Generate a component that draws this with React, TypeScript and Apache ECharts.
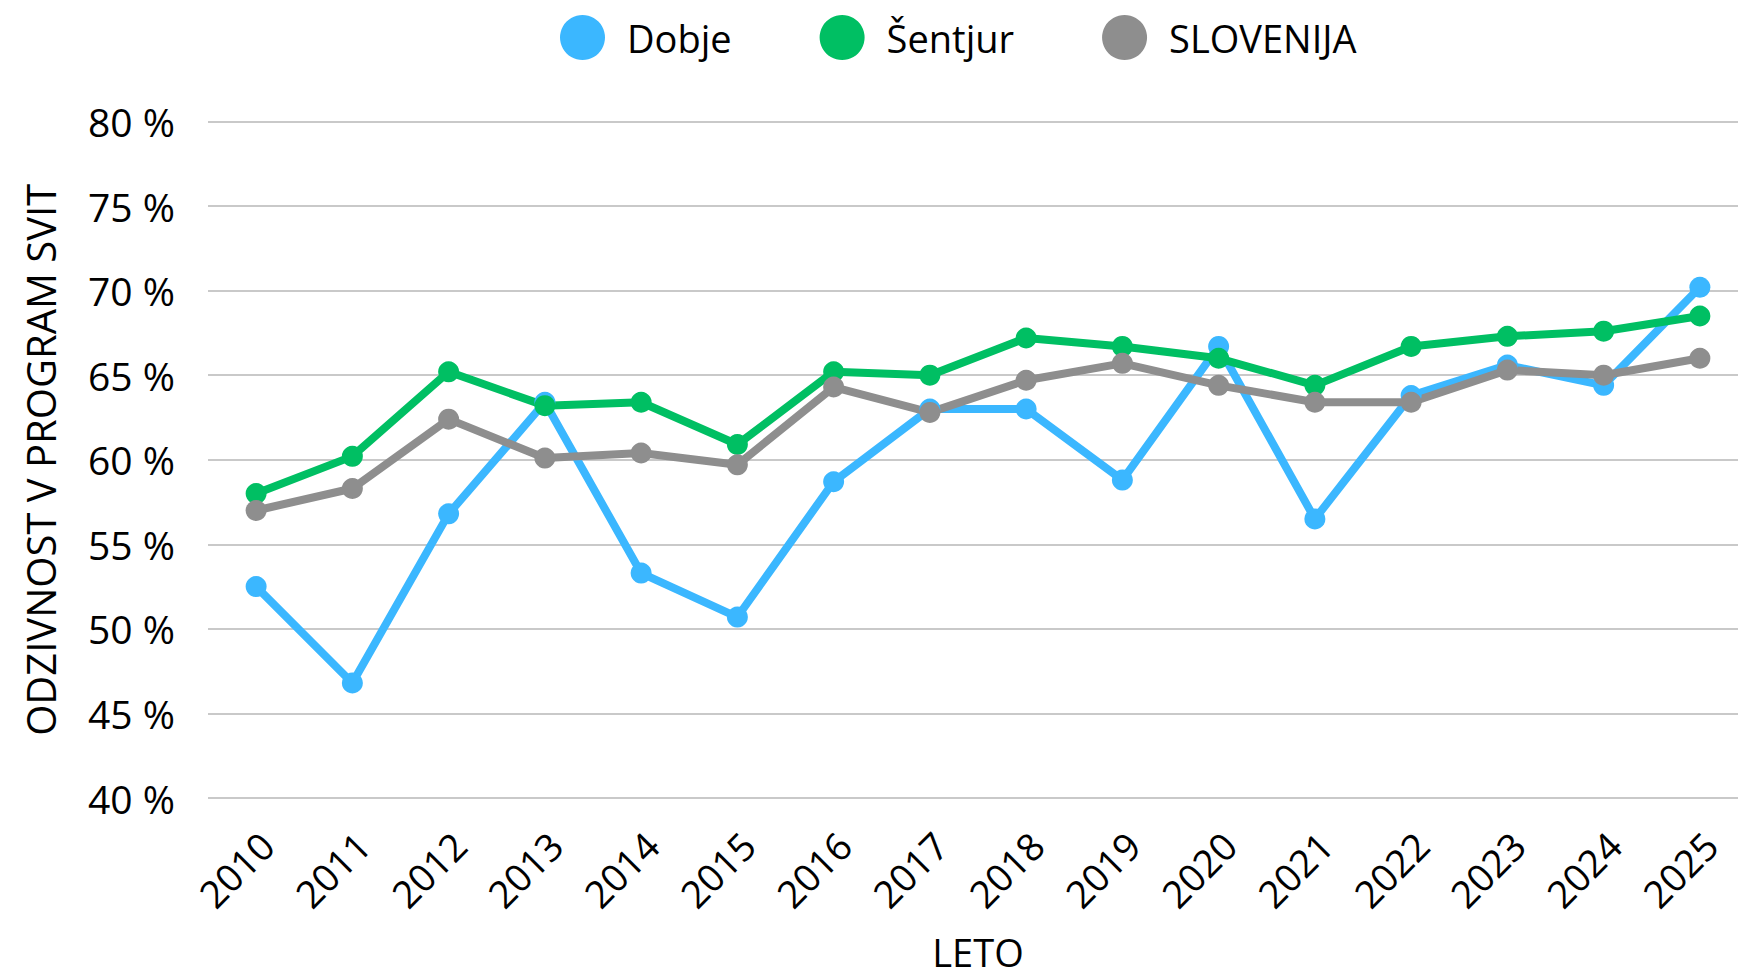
import React, { useEffect, useRef } from "react";
import * as echarts from "echarts";

const years = ["2010", "2011", "2012", "2013", "2014", "2015", "2016", "2017", "2018", "2019", "2020", "2021", "2022", "2023", "2024", "2025"];
const dobje = [52.5, 46.8, 56.8, 63.4, 53.3, 50.7, 58.7, 63.0, 63.0, 58.8, 66.7, 56.5, 63.8, 65.6, 64.4, 70.2];
const sentjur = [58.0, 60.2, 65.2, 63.2, 63.4, 60.9, 65.2, 65.0, 67.2, 66.7, 66.0, 64.4, 66.7, 67.3, 67.6, 68.5];
const slovenija = [57.0, 58.3, 62.4, 60.1, 60.4, 59.7, 64.3, 62.8, 64.7, 65.7, 64.4, 63.4, 63.4, 65.3, 65.0, 66.0];

const seriesNames = ["Dobje", "Šentjur", "SLOVENIJA"];
const colors = ["#3BB7FF", "#00BF63", "#8E8E8E"];

const FONT = "'Open Sans', sans-serif";

export default function App() {
  const ref = useRef<HTMLDivElement>(null);
  useEffect(() => {
    if (!ref.current) return;
    const chart = echarts.init(ref.current, undefined, { renderer: "svg" });
    const data = [dobje, sentjur, slovenija];
    chart.setOption({
      animation: false,
      backgroundColor: "#ffffff",
      textStyle: { fontFamily: FONT },
      legend: {
        left: 555,
        top: 10,
        icon: "circle",
        itemWidth: 45,
        itemHeight: 45,
        itemGap: 88,
        textStyle: { fontSize: 38, color: "#000", fontFamily: FONT, padding: [0, 0, 0, 17] },
        data: seriesNames,
      },
      grid: { left: 208, top: 121.5, width: 1540, height: 676.5, outerBoundsMode: "none", containLabel: false },
      xAxis: {
        type: "category",
        data: years,
        boundaryGap: true,
        axisLine: { show: false },
        axisTick: { show: false },
        axisLabel: {
          rotate: 45,
          fontSize: 38,
          lineHeight: 30,
          verticalAlign: "top",
          color: "#000",
          fontFamily: FONT,
          margin: 30,
          interval: 0,
        },
        name: "LETO",
        nameLocation: "middle",
        nameGap: 139,
        nameTextStyle: { fontSize: 38, lineHeight: 30, color: "#000", fontFamily: FONT },
      },
      yAxis: {
        type: "value",
        min: 40,
        max: 80,
        interval: 5,
        axisLine: { show: false },
        axisTick: { show: false },
        axisLabel: { formatter: "{value} %", fontSize: 39, color: "#000", fontFamily: FONT, margin: 33 },
        splitLine: { lineStyle: { color: "#C9C9C9", width: 2 } },
        name: "ODZIVNOST V PROGRAM SVIT",
        nameLocation: "middle",
        nameGap: 148,
        nameTextStyle: { fontSize: 40, color: "#000", fontFamily: FONT },
      },
      series: seriesNames.map((n, i) => ({
        name: n,
        type: "line",
        data: data[i],
        symbol: "circle",
        symbolSize: 21,
        lineStyle: { width: 8, color: colors[i] },
        itemStyle: { color: colors[i] },
      })),
    });
    return () => chart.dispose();
  }, []);
  return <div ref={ref} style={{ position: "absolute", left: 0, top: 0, width: 1738, height: 971 }} />;
}
